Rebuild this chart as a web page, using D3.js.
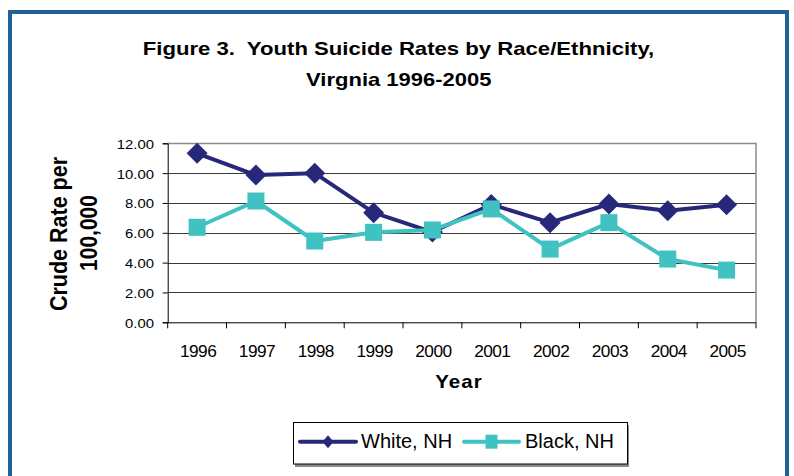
<!DOCTYPE html>
<html>
<head>
<meta charset="utf-8">
<script src="https://cdn.jsdelivr.net/npm/d3@7"></script>
<style>
html,body{margin:0;padding:0;background:#fff;}
svg{display:block;font-family:"Liberation Sans",Arial,Helvetica,sans-serif;}
</style>
</head>
<body>
<svg id="chart" width="794" height="476"></svg>
<script>
const years = ["1996","1997","1998","1999","2000","2001","2002","2003","2004","2005"];
const whiteNH = [11.33, 9.87, 10.00, 7.35, 6.05, 7.90, 6.68, 7.93, 7.48, 7.88];
const blackNH = [6.37, 8.13, 5.45, 6.03, 6.19, 7.60, 4.91, 6.68, 4.24, 3.50];
const yTicks = [0, 2, 4, 6, 8, 10, 12];
const seriesNames = ["White, NH", "Black, NH"];

const svg = d3.select("#chart");
const W = 794, H = 476;
const plot = {left: 167.7, right: 756, top: 143.3, bottom: 322.3};
const navy = "#28287a", teal = "#3fc2c1", frameBlue = "#1f6299";

// outer frame
svg.append("rect").attr("x", 10).attr("y", 12).attr("width", 777).attr("height", 480)
  .attr("fill", "#fff").attr("stroke", frameBlue).attr("stroke-width", 4);

function stretchedText(x, y, txt, opts) {
  const g = svg.append("g").attr("transform", `translate(${x},${y}) scale(${opts.sx||1},1)` + (opts.rot ? ` rotate(${opts.rot})` : ""));
  return g.append("text").attr("x", 0).attr("y", 0)
    .attr("text-anchor", opts.anchor || "middle")
    .attr("font-size", opts.size).attr("font-weight", opts.weight || "normal")
    .attr("fill", "#000").text(txt);
}

// title
stretchedText(398.5, 55, "Figure 3.\u00a0 Youth Suicide Rates by Race/Ethnicity,", {sx:1.19, size:18.6, weight:"bold"});
stretchedText(398.8, 86, "Virgnia 1996-2005", {sx:1.17, size:18.8, weight:"bold"});

const x = d3.scaleBand().domain(years).range([plot.left, plot.right]).padding(0);
const y = d3.scaleLinear().domain([0, 12]).range([plot.bottom, plot.top]);

// gridlines
svg.append("g").selectAll("line").data(yTicks.filter(t => t > 0 && t < 12)).join("line")
  .attr("x1", plot.left).attr("x2", plot.right)
  .attr("y1", d => Math.round(y(d)) + 0.5).attr("y2", d => Math.round(y(d)) + 0.5)
  .attr("stroke", "#3a3a3a").attr("stroke-width", 1);

// plot border top/right (gray)
svg.append("path")
  .attr("d", `M${plot.left},${Math.round(y(12))+0.5}H${plot.right}V${plot.bottom}`)
  .attr("fill", "none").attr("stroke", "#8c8c8c").attr("stroke-width", 1.5);

// y axis
const yAxis = d3.axisLeft(y).tickValues(yTicks).tickSize(5).tickFormat(() => "");
const yg = svg.append("g").attr("transform", `translate(${plot.left},0)`).call(yAxis);
yg.select(".domain").attr("stroke", "#000");
yg.selectAll(".tick line").attr("stroke", "#000");
yTicks.forEach(t => {
  stretchedText(154, y(t) + 5.5, d3.format(".2f")(t), {sx:1.19, size:12.5, anchor:"end"});
});

// x axis: ticks at category boundaries
const bounds = years.map(d => x(d)).concat([plot.right]);
const xg = svg.append("g");
xg.append("line").attr("x1", plot.left).attr("x2", plot.right)
  .attr("y1", plot.bottom + 0.5).attr("y2", plot.bottom + 0.5).attr("stroke", "#000");
xg.selectAll("line.tk").data(bounds).join("line").attr("class", "tk")
  .attr("x1", d => d).attr("x2", d => d)
  .attr("y1", plot.bottom).attr("y2", plot.bottom + 6).attr("stroke", "#000");
years.forEach(yr => {
  stretchedText(x(yr) + x.bandwidth() / 2 + 1, 356.5, yr, {sx:1.08, size:16, anchor:"middle"}).attr("letter-spacing", "-0.5");
});

// axis titles
stretchedText(459, 388, "Year", {sx:1.1, size:18.6, weight:"bold"}).attr("letter-spacing", "1");
stretchedText(67, 234, "Crude Rate per", {sx:1.1, size:21.5, weight:"bold", rot:-90});
stretchedText(97, 233, "100,000", {sx:1.1, size:21, weight:"bold", rot:-90});

// series
const cx = d => x(d) + x.bandwidth() / 2;
const line = d3.line().x((d, i) => cx(years[i])).y(d => y(d));

function diamondPath(px, py, hw, hh) {
  return `M${px},${py-hh}L${px+hw},${py}L${px},${py+hh}L${px-hw},${py}Z`;
}

svg.append("path").datum(whiteNH).attr("d", line)
  .attr("fill", "none").attr("stroke", navy).attr("stroke-width", 4).attr("stroke-linejoin", "round");
svg.append("g").selectAll("path").data(whiteNH).join("path")
  .attr("d", (d, i) => diamondPath(cx(years[i]), y(d), 10.5, 10.5))
  .attr("fill", navy);

svg.append("path").datum(blackNH).attr("d", line)
  .attr("fill", "none").attr("stroke", teal).attr("stroke-width", 4).attr("stroke-linejoin", "round");
svg.append("g").selectAll("rect").data(blackNH).join("rect")
  .attr("x", (d, i) => cx(years[i]) - 8.5).attr("y", d => y(d) - 8.5)
  .attr("width", 17).attr("height", 17).attr("fill", teal);

// legend
const lg = svg.append("g");
lg.append("rect").attr("x", 295).attr("y", 425).attr("width", 334).attr("height", 42).attr("fill", "#8a8a8a");
lg.append("rect").attr("x", 293.5).attr("y", 422.5).attr("width", 334).attr("height", 41.5)
  .attr("fill", "#fff").attr("stroke", "#000").attr("stroke-width", 1);
const legendItems = [
  {name: seriesNames[0], color: navy, type: "diamond", x0: 300, x1: 356, tx: 361},
  {name: seriesNames[1], color: teal, type: "square", x0: 464, x1: 519, tx: 525}
];
legendItems.forEach(it => {
  const ly = 441.7, mx = (it.x0 + it.x1) / 2;
  lg.append("line").attr("x1", it.x0).attr("x2", it.x1).attr("y1", ly).attr("y2", ly)
    .attr("stroke", it.color).attr("stroke-width", 4).attr("stroke-linecap", "round");
  if (it.type === "diamond") {
    lg.append("path").attr("d", diamondPath(mx, ly, 5.5, 6.5)).attr("fill", it.color);
  } else {
    lg.append("rect").attr("x", mx - 6).attr("y", ly - 7).attr("width", 12).attr("height", 14).attr("fill", it.color);
  }
  lg.append("text").attr("x", it.tx).attr("y", 447.5).attr("font-size", 20).attr("fill", "#000").text(it.name);
});
</script>
</body>
</html>
